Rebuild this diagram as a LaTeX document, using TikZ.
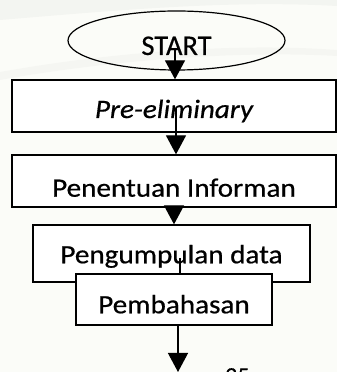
\documentclass[tikz,border=0pt]{standalone}
\usepackage{fontspec}
\setmainfont{Carlito}[FakeBold=0.5]
\newfontfamily\widefont{Carlito}[FakeStretch=1.1,FakeBold=0.6]
\usetikzlibrary{arrows.meta,shapes.geometric}
\definecolor{paper}{HTML}{FBFCF8}
\definecolor{swoosh}{HTML}{E6E8E4}
\tikzset{
  x=1pt, y=1pt,
  stepbox/.style={draw, line width=1.3pt, fill=white, inner sep=0pt,
    font=\widefont\fontsize{26.5}{31}\selectfont},
  flowarrow/.style={line width=1.3pt, -{Triangle[length=19pt,width=20pt]}},
  flowline/.style={line width=1.3pt}
}
\begin{document}
\begin{tikzpicture}
  % page background and faint watermark bands
  \fill[paper] (0,0) rectangle (337,372);
  \useasboundingbox (0,0) rectangle (337,372);
  \fill[swoosh, opacity=0.35] (0,352) .. controls (120,362) and (230,372) .. (337,366)
     -- (337,372) -- (0,372) -- cycle;
  \fill[swoosh, opacity=0.25] (0,300) .. controls (100,318) and (230,330) .. (337,322)
     -- (337,316) .. controls (230,322) and (100,310) .. (0,292) -- cycle;

  % terminal
  \node[draw, ellipse, line width=1.2pt, inner sep=0pt,
        minimum width=217pt, minimum height=59pt,
        text height=30pt, text depth=1pt,
        font=\fontsize{28.5}{32}\selectfont] (start) at (176.5,331.5) {START};

  % process steps
  \node[stepbox, minimum width=324pt, minimum height=52pt,
        text height=25pt, text depth=1pt] (pre) at (174,266) {\itshape Pre-eliminary};
  \node[stepbox, minimum width=324pt, minimum height=52pt,
        text height=32.4pt, text depth=1pt] (pen) at (174,191) {Penentuan Informan};
  \node[stepbox, minimum width=277pt, minimum height=57pt,
        text height=20.6pt, text depth=1pt] (peng) at (171.5,118.5) {Pengumpulan data};
  \node[stepbox, minimum width=196pt, minimum height=51pt,
        text height=28.6pt, text depth=1pt] (pemb) at (174,72.5) {Pembahasan};

  % connector start points
  \coordinate (s0) at (175,324);
  \coordinate (p0) at (176,264);
  \coordinate (g0) at (180,114);
  \coordinate (tail) at (178,0);

  \draw[flowarrow] (s0) -- (s0 |- pre.north);
  \draw[flowarrow] (p0) -- (p0 |- pen.north);
  \draw[flowarrow] (pen.south) -- (pen.south |- peng.north);
  \draw[flowline] (g0) -- (g0 |- pemb.north);
  \draw[flowarrow] (tail |- pemb.south) -- (tail);

  % page number, running off the lower edge
  \node[anchor=north west, inner sep=0pt, font=\fontsize{24}{28}\selectfont]
    (pagenum) at (225,4) {25};
\end{tikzpicture}
\end{document}
